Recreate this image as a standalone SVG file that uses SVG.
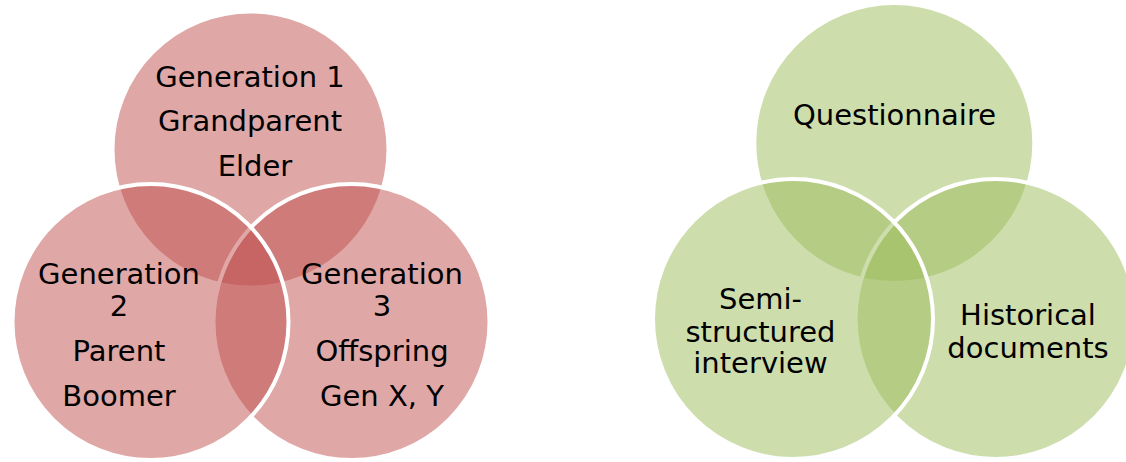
<svg xmlns="http://www.w3.org/2000/svg" width="1126" height="462" viewBox="0 0 1126 462">
<style>
.red{fill:#C0504D;fill-opacity:0.5;stroke:#FFFFFF;stroke-width:4}
.grn{fill:#9BBB59;fill-opacity:0.5;stroke:#FFFFFF;stroke-width:4}
text{font-family:"DejaVu Sans","Verdana",sans-serif;font-size:29px;fill:#000000;text-anchor:middle}
</style>
<rect width="1126" height="462" fill="#FFFFFF"/>
<g id="venn-generations">
<g id="gen1">
<circle class="red" cx="250.5" cy="149.5" r="138"/>
<text x="250" y="87">Generation 1</text>
<text x="250" y="131">Grandparent</text>
<text x="255" y="176">Elder</text>
</g>
<g id="gen3">
<circle class="red" cx="351.5" cy="322" r="138"/>
<text x="382" y="284">Generation</text>
<text x="382" y="316">3</text>
<text x="382" y="361">Offspring</text>
<text x="382" y="406">Gen X, Y</text>
</g>
<g id="gen2">
<circle class="red" cx="150.5" cy="322" r="138"/>
<text x="119" y="284">Generation</text>
<text x="119" y="316">2</text>
<text x="119" y="361">Parent</text>
<text x="119" y="406">Boomer</text>
</g>
</g>
<g id="venn-methods">
<g id="questionnaire">
<circle class="grn" cx="894.3" cy="143" r="140"/>
<text x="894.5" y="125">Questionnaire</text>
</g>
<g id="historical">
<circle class="grn" cx="995.6" cy="319" r="140"/>
<text x="1028" y="325">Historical</text>
<text x="1028" y="358">documents</text>
</g>
<g id="interview">
<circle class="grn" cx="793" cy="319" r="140"/>
<text x="760.5" y="309">Semi-</text>
<text x="760.5" y="342">structured</text>
<text x="760.5" y="373">interview</text>
</g>
</g>
<g id="connectors"/>
</svg>
